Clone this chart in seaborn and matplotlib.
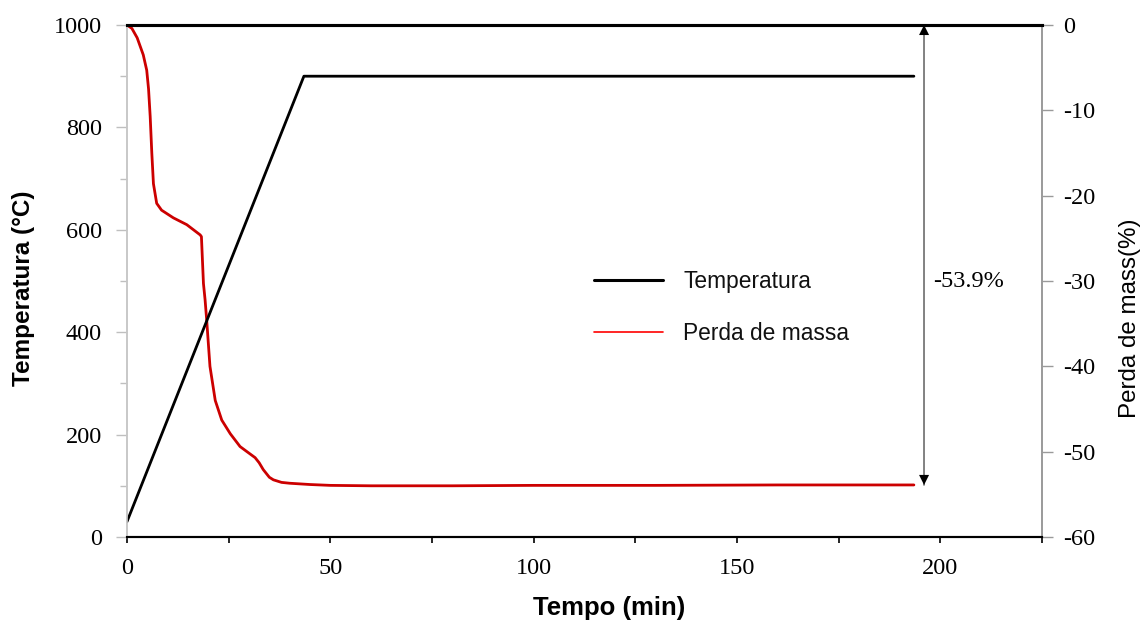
import matplotlib
matplotlib.use("Agg")
import matplotlib.pyplot as plt
import seaborn as sns
import pandas as pd
from matplotlib.ticker import MultipleLocator
from matplotlib.lines import Line2D

# ---- data ----
t_temp = [0, 43.5, 193.5]
temperature = [30, 900, 900]

t_mass = [0, 1.2, 2.5, 4.0, 4.85, 5.3, 5.7, 6.1, 6.5, 7.3, 8.5, 11.4, 14.7, 18.0, 18.3,
          18.8, 19.2, 19.6, 20.4, 21.7, 23.3, 25.4, 27.8, 29.5, 31.5, 32.5, 33.5, 35, 36,
          38, 40, 45, 50, 60, 80, 100, 130, 160, 193.5]
mass_loss = [0, -0.4, -1.5, -3.5, -5.3, -7.5, -10.7, -15, -18.6, -20.9, -21.7, -22.6, -23.4,
             -24.6, -24.8, -30.3, -32.2, -34.6, -40, -44, -46.3, -47.9, -49.4, -50.0, -50.7,
             -51.3, -52.1, -53.0, -53.3, -53.6, -53.7, -53.85, -53.95, -54.0, -54.0, -53.95,
             -53.95, -53.9, -53.9]

total_loss = -53.9
loss_label = "-53.9%"
arrow_t = 196

x_ticks = [0, 50, 100, 150, 200]
y_ticks_left = [0, 200, 400, 600, 800, 1000]
y_ticks_right = [0, -10, -20, -30, -40, -50, -60]

series_names = ["Temperatura", "Perda de massa"]
xlabel = "Tempo (min)"
ylabel_left = "Temperatura (°C)"
ylabel_right = "Perda de mass(%)"

df_temp = pd.DataFrame({"t": t_temp, "v": temperature})
df_mass = pd.DataFrame({"t": t_mass, "v": mass_loss})

sns.set_style("ticks")
plt.rcParams["font.family"] = ["Liberation Serif", "DejaVu Serif"]
for k in ("text.color", "axes.labelcolor", "xtick.color", "ytick.color"):
    plt.rcParams[k] = "black"

sans = ["Liberation Sans", "DejaVu Sans"]

fig = plt.figure(figsize=(11.45, 6.21), dpi=100)
ax = fig.add_subplot(111)
fig.subplots_adjust(left=127/1145, right=1042/1145, bottom=1-537/621, top=1-25/621)

black = "#000000"
red = "#CC0000"

sns.lineplot(data=df_temp, x="t", y="v", ax=ax, color=black, linewidth=2.0,
             estimator=None, legend=False)
ax2 = ax.twinx()
sns.lineplot(data=df_mass, x="t", y="v", ax=ax2, color=red, linewidth=2.0,
             estimator=None, legend=False)

ax.set_xlim(0, 225)
ax.set_ylim(0, 1000)
ax2.set_ylim(-60, 0)

ax.set_xticks(x_ticks)
ax.set_xticklabels([str(v) for v in x_ticks])
ax.xaxis.set_minor_locator(MultipleLocator(25))
ax.set_yticks(y_ticks_left)
ax.set_yticklabels([str(v) for v in y_ticks_left])
ax.yaxis.set_minor_locator(MultipleLocator(100))
ax2.set_yticks(y_ticks_right)
ax2.set_yticklabels([str(v) for v in y_ticks_right])

ax.tick_params(axis="x", which="both", direction="out", length=4, width=1.2,
               color=black, labelsize=17.5, labelcolor=black, pad=11)
ax.tick_params(axis="y", which="major", direction="out", length=8, width=1,
               color="#BFBFBF", labelsize=17.5, labelcolor=black, pad=10)
ax.tick_params(axis="y", which="minor", direction="out", length=5, width=1,
               color="#BFBFBF")
ax2.tick_params(axis="y", which="major", direction="out", length=8, width=1,
                color="#9A9A9A", labelsize=17.5, labelcolor=black, pad=7)

for a in (ax, ax2):
    a.spines["left"].set_color("#C8C8C8")
    a.spines["left"].set_linewidth(1.2)
    a.spines["right"].set_color("#9A9A9A")
    a.spines["right"].set_linewidth(1.2)
    a.spines["bottom"].set_color(black)
    a.spines["bottom"].set_linewidth(1.5)
    a.spines["top"].set_color(black)
    a.spines["top"].set_linewidth(2.2)

ax.set_xlabel(xlabel, fontsize=18.5, fontweight="bold", family=sans, color=black)
ax.xaxis.set_label_coords(0.527, -0.115)
ax.set_ylabel(ylabel_left, fontsize=17.5, fontweight="bold", family=sans, color=black)
ax.yaxis.set_label_coords(-0.1005, 0.485)
ax2.set_ylabel(ylabel_right, fontsize=17.4, family=sans, rotation=90, color=black)
ax2.yaxis.set_label_coords(1.084, 0.428)

# arrow for total loss
ax2.plot([arrow_t, arrow_t], [0, total_loss], color="#6E6E6E", lw=1.2)
ax2.annotate("", xy=(arrow_t, total_loss), xytext=(arrow_t, 0),
             arrowprops=dict(arrowstyle="<|-|>", color=black, lw=0.01,
                             mutation_scale=18, shrinkA=0, shrinkB=0))
ax2.text(arrow_t + 2.3, -30.1, loss_label, fontsize=17.5, va="center", ha="left", color=black)

handles = [Line2D([], [], color=black, linewidth=2.2),
           Line2D([], [], color="#FF0000", linewidth=1.2)]
leg = ax.legend(handles, series_names, loc="center left", bbox_to_anchor=(0.488, 0.449),
                frameon=False, prop={"family": sans, "size": 16.4},
                handlelength=3.03, handletextpad=0.88, labelspacing=1.28)
for txt in leg.get_texts():
    txt.set_color("#111111")

ax.set_zorder(ax2.get_zorder() + 1)
ax.patch.set_visible(False)

fig.savefig("out.png", dpi=100)
